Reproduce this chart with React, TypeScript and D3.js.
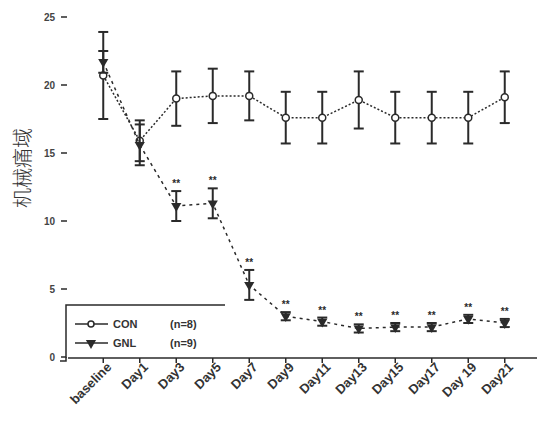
import React from "react";
import * as d3 from "d3";

const categories = ["baseline", "Day1", "Day3", "Day5", "Day7", "Day9", "Day11", "Day13", "Day15", "Day17", "Day 19", "Day21"];
const conMean = [20.7, 15.9, 19.0, 19.2, 19.2, 17.6, 17.6, 18.9, 17.6, 17.6, 17.6, 19.1];
const conErr = [3.2, 1.5, 2.0, 2.0, 1.8, 1.9, 1.9, 2.1, 1.9, 1.9, 1.9, 1.9];
const gnlMean = [21.7, 15.6, 11.1, 11.3, 5.3, 3.0, 2.6, 2.1, 2.2, 2.2, 2.8, 2.5];
const gnlErr = [0.8, 1.5, 1.1, 1.1, 1.1, 0.3, 0.3, 0.3, 0.3, 0.3, 0.3, 0.3];
const gnlStars = ["", "", "**", "**", "**", "**", "**", "**", "**", "**", "**", "**"];
const yTicks = [0, 5, 10, 15, 20, 25];
const legendItems = [
  { name: "CON", n: "(n=8)" },
  { name: "GNL", n: "(n=9)" },
];

const W = 537;
const H = 422;
const ink = "#2a2a2a";
const sans = "Liberation Sans, Arial, sans-serif";

export default function App() {
  const x = d3.scaleBand<string>().domain(categories).range([85, 523]).padding(0);
  const y = d3.scaleLinear().domain([0, 25]).range([357, 17]);
  const cx = (c: string) => (x(c) as number) + x.bandwidth() / 2;

  const line = d3
    .line<number>()
    .x((_, i) => cx(categories[i]))
    .y((d) => y(d));

  const tri = d3.symbol().type(d3.symbolTriangle).size(45)() as string;

  const errBar = (v: number, e: number, c: string, key: string) => (
    <g key={key} stroke={ink} strokeWidth={2}>
      <line x1={cx(c)} x2={cx(c)} y1={y(v + e)} y2={y(v - e)} />
      <line x1={cx(c) - 5} x2={cx(c) + 5} y1={y(v + e)} y2={y(v + e)} />
      <line x1={cx(c) - 5} x2={cx(c) + 5} y1={y(v - e)} y2={y(v - e)} />
    </g>
  );

  return (
    <svg width={W} height={H} style={{ position: "absolute", left: 0, top: 0, background: "#fff" }}>
      {/* x axis */}
      <line x1={68} x2={W} y1={358} y2={358} stroke={ink} strokeWidth={1.5} />
      {categories.map((c) => (
        <g key={c}>
          <line x1={cx(c)} x2={cx(c)} y1={358} y2={363} stroke={ink} strokeWidth={1.5} />
          <text
            transform={`translate(${cx(c) + 9},${368}) rotate(-45)`}
            textAnchor="end"
            fontFamily={sans}
            fontWeight="bold"
            fontSize={13}
            fill="#333"
          >
            {c}
          </text>
        </g>
      ))}

      {/* y ticks */}
      {yTicks.map((t) => (
        <g key={t}>
          <line x1={61} x2={67} y1={y(t)} y2={y(t)} stroke={ink} strokeWidth={1.5} />
          <text x={55} y={y(t) + 4} textAnchor="end" fontFamily={sans} fontWeight="bold" fontSize={10} fill="#444">
            {t}
          </text>
        </g>
      ))}
      <text
        transform="translate(30,168) rotate(-90)"
        textAnchor="middle"
        fontFamily="Noto Sans CJK SC, sans-serif"
        fontWeight={300}
        fontSize={20}
        fill="#333"
      >
        机械痛域
      </text>

      {/* CON */}
      <path d={line(conMean) as string} fill="none" stroke={ink} strokeWidth={1.5} strokeDasharray="2,2" />
      {categories.map((c, i) => errBar(conMean[i], conErr[i], c, "ce" + c))}
      {categories.map((c, i) => (
        <circle key={"cc" + c} cx={cx(c)} cy={y(conMean[i])} r={3.5} fill="#fff" stroke={ink} strokeWidth={1.5} />
      ))}

      {/* GNL */}
      <path d={line(gnlMean) as string} fill="none" stroke={ink} strokeWidth={1.5} strokeDasharray="3,4" />
      {categories.map((c, i) => errBar(gnlMean[i], gnlErr[i], c, "ge" + c))}
      {categories.map((c, i) => (
        <path
          key={"gm" + c}
          d={tri}
          transform={`translate(${cx(c)},${y(gnlMean[i])}) rotate(180)`}
          fill={ink}
        />
      ))}
      {categories.map((c, i) =>
        gnlStars[i] ? (
          <text
            key={"gs" + c}
            x={cx(c)}
            y={y(gnlMean[i] + gnlErr[i]) - 4}
            textAnchor="middle"
            fontFamily={sans}
            fontWeight="bold"
            fontSize={10}
            fill={ink}
          >
            {gnlStars[i]}
          </text>
        ) : null
      )}

      {/* legend */}
      <rect x={66} y={305} width={159} height={52} fill="#fff" />
      <path d="M225,305 H66 V361 H60" fill="none" stroke={ink} strokeWidth={1.5} />
      {legendItems.map((d, i) => (
        <g key={d.name} transform={`translate(75,${324 + i * 19})`}>
          <line x1={0} x2={33} y1={0} y2={0} stroke={ink} strokeWidth={1.5} />
          {i === 0 ? (
            <circle cx={16} cy={0} r={3} fill="#fff" stroke={ink} strokeWidth={1.5} />
          ) : (
            <path d={tri} transform="translate(16,0) rotate(180)" fill={ink} />
          )}
          <text x={38} y={4} fontFamily={sans} fontWeight="bold" fontSize={11} fill="#333">
            {d.name}
          </text>
          <text x={95} y={4} fontFamily={sans} fontWeight="bold" fontSize={11} fill="#333">
            {d.n}
          </text>
        </g>
      ))}
    </svg>
  );
}
